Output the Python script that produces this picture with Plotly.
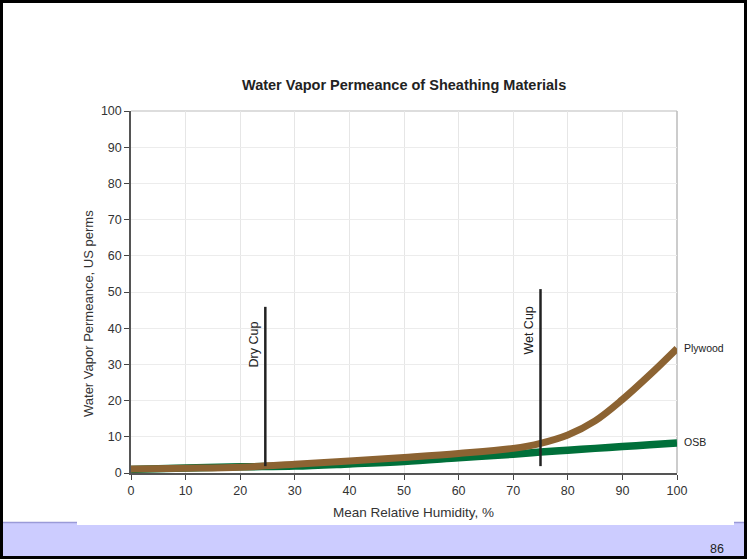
import plotly.graph_objects as go

W, H = 747, 559

# ---- data ----
rh = [0, 10, 20, 30, 40, 50, 60, 70, 75, 80, 85, 90, 95, 100]
plywood = [1.1, 1.3, 1.6, 2.4, 3.3, 4.3, 5.4, 6.8, 8.2, 10.5, 14.4, 20.3, 27.1, 34.4]
osb = [1.0, 1.4, 1.7, 1.9, 2.5, 3.2, 4.2, 5.2, 5.8, 6.3, 6.8, 7.3, 7.8, 8.3]

dry_cup_x = 24.6
dry_cup_y = [1.9, 45.9]
wet_cup_x = 75
wet_cup_y = [1.9, 50.8]

x_ticks = [0, 10, 20, 30, 40, 50, 60, 70, 80, 90, 100]
y_ticks = [0, 10, 20, 30, 40, 50, 60, 70, 80, 90, 100]

title = "Water Vapor Permeance of Sheathing Materials"
x_title = "Mean Relative Humidity, %"
y_title = "Water Vapor Permeance, US perms"
page_no = "86"

FONT = "Liberation Sans, Arial, sans-serif"
BROWN = "#8c6332"
GREEN = "#00703a"

# plot area in pixels
PL, PR, PT, PB = 131, 677, 111, 473

fig = go.Figure()

fig.add_trace(go.Scatter(x=rh, y=osb, mode="lines", line=dict(color=GREEN, width=7.5, shape="spline"),
                         showlegend=False, cliponaxis=False))
fig.add_trace(go.Scatter(x=rh, y=plywood, mode="lines", line=dict(color=BROWN, width=7, shape="spline"),
                         showlegend=False, cliponaxis=False))
fig.add_trace(go.Scatter(x=[dry_cup_x, dry_cup_x], y=dry_cup_y, mode="lines",
                         line=dict(color="#222222", width=2.5), showlegend=False))
fig.add_trace(go.Scatter(x=[wet_cup_x, wet_cup_x], y=wet_cup_y, mode="lines",
                         line=dict(color="#222222", width=2.5), showlegend=False))

def px(x):
    return x / W

def py(y):
    return 1 - y / H

shapes = [
    # lavender footer band
    dict(type="rect", xref="paper", yref="paper", x0=0, x1=1, y0=py(H), y1=py(523),
         fillcolor="#ccccff", line=dict(width=0), layer="below"),
    # white image area overlapping band
    dict(type="rect", xref="paper", yref="paper", x0=px(77), x1=px(734), y0=py(525), y1=py(515),
         fillcolor="white", line=dict(width=0), layer="below"),
    dict(type="line", xref="paper", yref="paper", x0=px(3), x1=px(77), y0=py(522.5), y1=py(522.5),
         line=dict(color="#9a9ad8", width=1.5), layer="below"),
    dict(type="line", xref="paper", yref="paper", x0=px(734), x1=px(747), y0=py(522.5), y1=py(522.5),
         line=dict(color="#9a9ad8", width=1.5), layer="below"),
    # light top/right frame of plot
    dict(type="line", xref="paper", yref="paper", x0=px(PL), x1=px(PR), y0=py(PT), y1=py(PT),
         line=dict(color="#bbbbbb", width=1), layer="below"),
    dict(type="line", xref="paper", yref="paper", x0=px(PR), x1=px(PR), y0=py(PT), y1=py(PB),
         line=dict(color="#bbbbbb", width=1.5), layer="below"),
    # slide border
    dict(type="rect", xref="paper", yref="paper", x0=px(1.5), x1=px(745.5), y0=py(557.5), y1=py(1.5),
         line=dict(color="black", width=3), fillcolor="rgba(0,0,0,0)", layer="above"),
]

annotations = [
    dict(text=title, x=px(404), y=py(85), xref="paper", yref="paper", showarrow=False,
         font=dict(family=FONT, size=14.5, color="#222222", weight="bold"), xanchor="center", yanchor="middle"),
    dict(text="Dry Cup", x=dry_cup_x, y=35.6, xref="x", yref="y", showarrow=False, textangle=-90,
         xshift=-11, font=dict(family=FONT, size=12.5, color="#222222"), xanchor="center", yanchor="middle"),
    dict(text="Wet Cup", x=wet_cup_x, y=39.2, xref="x", yref="y", showarrow=False, textangle=-90,
         xshift=-11, font=dict(family=FONT, size=12.5, color="#222222"), xanchor="center", yanchor="middle"),
    dict(text="Plywood", x=100, y=plywood[-1], xref="x", yref="y", showarrow=False, xshift=5,
         font=dict(family=FONT, size=10.5, color="#222222"), xanchor="left", yanchor="middle"),
    dict(text="OSB", x=100, y=osb[-1] + 0.3, xref="x", yref="y", showarrow=False, xshift=5,
         font=dict(family=FONT, size=10.5, color="#222222"), xanchor="left", yanchor="middle"),
    dict(text=page_no, x=px(717), y=py(549), xref="paper", yref="paper", showarrow=False,
         font=dict(family=FONT, size=12.5, color="#222222"), xanchor="center", yanchor="middle"),
    dict(text=x_title, x=px(413), y=py(512), xref="paper", yref="paper", showarrow=False,
         font=dict(family=FONT, size=13.5, color="#333333"), xanchor="center", yanchor="middle"),
    dict(text=y_title, x=px(88), y=py(314), xref="paper", yref="paper", showarrow=False,
         textangle=-90, font=dict(family=FONT, size=13, color="#333333"), xanchor="center", yanchor="middle"),
]

fig.update_layout(
    template="none",
    width=W, height=H, autosize=False,
    margin=dict(l=0, r=0, t=0, b=0),
    paper_bgcolor="white", plot_bgcolor="white",
    font=dict(family=FONT, size=12, color="#333333"),
    shapes=shapes, annotations=annotations,
    xaxis=dict(domain=[PL / W, PR / W], range=[0, 100], tickvals=x_ticks, ticks="outside",
               ticklen=5, tickcolor="#444444", showline=True, linecolor="#555555", linewidth=1.5,
               showgrid=True, gridcolor="#e6e6e6", gridwidth=1, zeroline=False, automargin=False,
               tickfont=dict(family=FONT, size=12.5, color="#333333")),
    yaxis=dict(domain=[1 - PB / H, 1 - PT / H], range=[0, 100], tickvals=y_ticks, ticks="outside",
               ticklen=5, tickcolor="#444444", showline=True, linecolor="#555555", linewidth=1.5,
               showgrid=True, gridcolor="#ececec", gridwidth=1, zeroline=False, automargin=False,
               tickfont=dict(family=FONT, size=12.5, color="#333333")),
)

fig.write_html("out.html", config={"displayModeBar": False},
               post_script="document.body.style.margin='0';document.body.style.overflow='hidden';")
